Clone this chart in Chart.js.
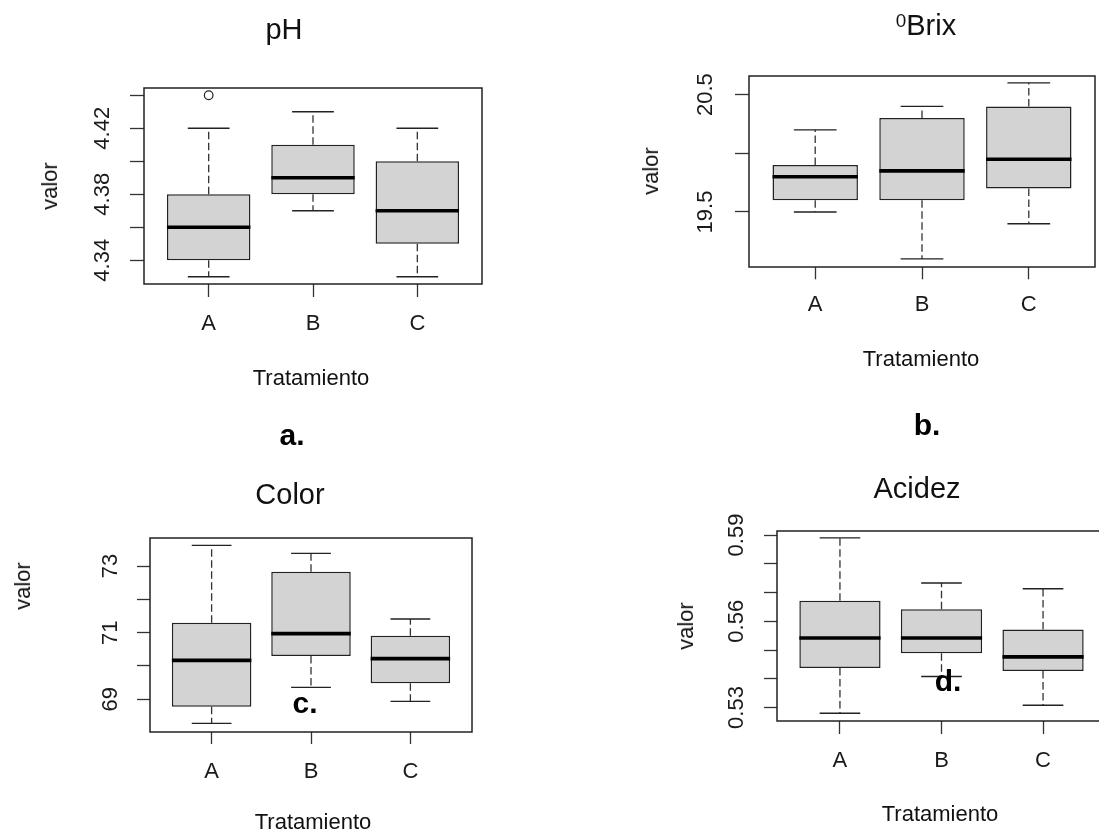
<!DOCTYPE html>
<html><head><meta charset="utf-8">
<script src="https://cdn.jsdelivr.net/npm/chart.js@4.4.1/dist/chart.umd.min.js"></script>
<style>
html,body{margin:0;padding:0;background:#fff;overflow:hidden;width:1099px;height:834px;position:relative;font-family:"Liberation Sans",Arial,sans-serif;}
canvas{position:absolute;}
.t{position:absolute;white-space:nowrap;line-height:1;color:#111;transform:translate(-50%,-50%);}
.ttl{font-size:29px;}
.ax{font-size:22px;}
.yl{transform:translate(-50%,-50%) rotate(-90deg);}
.lt{position:absolute;white-space:nowrap;line-height:1;font-size:30px;font-weight:bold;color:#000;transform:translateX(-50%);}
sup{font-size:0.65em;vertical-align:0.42em;line-height:0;}
</style></head><body>
<canvas id="cA" width="545" height="410" style="left:0;top:0"></canvas>
<canvas id="cB" width="549" height="410" style="left:550px;top:0"></canvas>
<canvas id="cC" width="545" height="414" style="left:0;top:420px"></canvas>
<canvas id="cD" width="556" height="414" style="left:550px;top:420px"></canvas>

<div class="t ttl" style="left:284px;top:29px">pH</div>
<div class="t ttl" style="left:926px;top:25px"><sup>0</sup>Brix</div>
<div class="t ttl" style="left:290px;top:494px">Color</div>
<div class="t ttl" style="left:917px;top:488px">Acidez</div>

<div class="t ax yl" style="left:50px;top:186px">valor</div>
<div class="t ax yl" style="left:651px;top:171px">valor</div>
<div class="t ax yl" style="left:23px;top:586px">valor</div>
<div class="t ax yl" style="left:686px;top:626px">valor</div>

<div class="t ax" style="left:311px;top:378px">Tratamiento</div>
<div class="t ax" style="left:921px;top:359px">Tratamiento</div>
<div class="t ax" style="left:313px;top:822px">Tratamiento</div>
<div class="t ax" style="left:940px;top:814px">Tratamiento</div>

<div class="lt" style="left:292px;top:420px">a.</div>
<div class="lt" style="left:927px;top:410px">b.</div>
<div class="lt" style="left:305px;top:688px">c.</div>
<div class="lt" style="left:948px;top:666px">d.</div>

<script>
// ---------- data ----------
const categories = ['A', 'B', 'C'];

// pH
const phLow  = [4.33, 4.37, 4.33];
const phQ1   = [4.34, 4.38, 4.35];
const phMed  = [4.36, 4.39, 4.37];
const phQ3   = [4.38, 4.41, 4.40];
const phHigh = [4.42, 4.43, 4.42];
const phOutliers = [[4.44], [], []];
const phTicks = [4.34, 4.36, 4.38, 4.40, 4.42, 4.44];
const phTickLabels = ['4.34', '', '4.38', '', '4.42', ''];

// Brix
const brixLow  = [19.5, 19.1, 19.4];
const brixQ1   = [19.6, 19.6, 19.7];
const brixMed  = [19.8, 19.85, 19.95];
const brixQ3   = [19.9, 20.3, 20.4];
const brixHigh = [20.2, 20.4, 20.6];
const brixOutliers = [[], [], []];
const brixTicks = [19.5, 20.0, 20.5];
const brixTickLabels = ['19.5', '', '20.5'];

// Color
const colorLow  = [68.28, 69.36, 68.94];
const colorQ1   = [68.78, 70.30, 69.48];
const colorMed  = [70.17, 70.97, 70.22];
const colorQ3   = [71.30, 72.83, 70.91];
const colorHigh = [73.62, 73.38, 71.41];
const colorOutliers = [[], [], []];
const colorTicks = [69, 70, 71, 72, 73];
const colorTickLabels = ['69', '', '71', '', '73'];

// Acidez
const acLow  = [0.528, 0.5408, 0.5308];
const acQ1   = [0.5437, 0.5489, 0.5427];
const acMed  = [0.5542, 0.5542, 0.5476];
const acQ3   = [0.5671, 0.5642, 0.5571];
const acHigh = [0.589, 0.5733, 0.5713];
const acOutliers = [[], [], []];
const acTicks = [0.53, 0.54, 0.55, 0.56, 0.57, 0.58, 0.59];
const acTickLabels = ['0.53', '', '', '0.56', '', '', '0.59'];

// ---------- drawing ----------
const FONT = '"Liberation Sans", Arial, sans-serif';
const BOX_HALF = 0.4, CAP_HALF = 0.2;
const INK = '#222';

const framePlugin = {
  id: 'frame',
  afterDatasetsDraw(chart) {
    const {ctx, chartArea: a} = chart;
    ctx.save();
    ctx.strokeStyle = INK; ctx.lineWidth = 1.5;
    ctx.strokeRect(a.left, a.top, a.right - a.left, a.bottom - a.top);
    ctx.restore();
  }
};

function makePanel(id, low, q1, med, q3, high, outl, yTicks, yLabels, ymin, ymax, L) {
  const boxes = [], meds = [], whisk = [], caps = [], pts = [];
  categories.forEach((c, i) => {
    const x = i + 1;
    boxes.push({x: x, y: [q1[i], q3[i]]});
    meds.push({x: x - BOX_HALF, y: med[i]}, {x: x + BOX_HALF, y: med[i]}, {x: x, y: null});
    whisk.push({x: x, y: q3[i]}, {x: x, y: high[i]}, {x: x, y: null},
               {x: x, y: q1[i]}, {x: x, y: low[i]}, {x: x, y: null});
    caps.push({x: x - CAP_HALF, y: high[i]}, {x: x + CAP_HALF, y: high[i]}, {x: x, y: null},
              {x: x - CAP_HALF, y: low[i]}, {x: x + CAP_HALF, y: low[i]}, {x: x, y: null});
    outl[i].forEach(v => pts.push({x: x, y: v}));
  });
  const tickFont = {family: FONT, size: 22};
  new Chart(document.getElementById(id), {
    type: 'bar',
    data: {
      datasets: [
        {type: 'bar', label: 'caja', data: boxes, backgroundColor: '#d3d3d3', borderColor: INK,
         borderWidth: 1.5, borderSkipped: false, barPercentage: 0.8, categoryPercentage: 1.0, order: 4},
        {type: 'line', label: 'bigotes', data: whisk, borderColor: '#333', borderWidth: 1.3,
         borderDash: [7.5, 3.5], pointRadius: 0, spanGaps: false, fill: false, order: 3},
        {type: 'line', label: 'topes', data: caps, borderColor: INK, borderWidth: 1.4,
         pointRadius: 0, spanGaps: false, fill: false, order: 2},
        {type: 'line', label: 'mediana', data: meds, borderColor: '#000', borderWidth: 3.6,
         borderCapStyle: 'butt', pointRadius: 0, spanGaps: false, fill: false, order: 1},
        {type: 'line', label: 'atípicos', data: pts, showLine: false, pointRadius: 4.3,
         pointBackgroundColor: 'rgba(0,0,0,0)', pointBorderColor: INK, pointBorderWidth: 1.2, order: 0}
      ]
    },
    options: {
      responsive: false, animation: false, devicePixelRatio: 1, events: [],
      layout: {padding: {left: 0, top: L.top, right: L.right, bottom: 0}},
      plugins: {legend: {display: false}, tooltip: {enabled: false}, title: {display: false}},
      scales: {
        x: {
          type: 'linear', min: 0.38, max: 3.62, offset: false,
          afterBuildTicks: s => { s.ticks = categories.map((c, i) => ({value: i + 1})); },
          afterFit: s => { s.height = L.hx; },
          ticks: {autoSkip: false, callback: (v, i) => categories[i], font: tickFont, color: '#1a1a1a',
                  padding: L.xpad, minRotation: 0, maxRotation: 0},
          grid: {display: true, drawOnChartArea: false, drawTicks: true, tickLength: L.xtl,
                 tickWidth: 1.3, tickColor: '#333', offset: false},
          border: {display: false}
        },
        y: {
          type: 'linear', min: ymin, max: ymax,
          afterBuildTicks: s => { s.ticks = yTicks.map(v => ({value: v})); },
          afterFit: s => { s.width = L.wy; },
          ticks: {autoSkip: false, callback: (v, i) => yLabels[i], font: tickFont, color: '#1a1a1a',
                  padding: L.ypad, minRotation: 90, maxRotation: 90, crossAlign: 'center'},
          grid: {display: true, drawOnChartArea: false, drawTicks: true, tickLength: L.ytl,
                 tickWidth: 1.3, tickColor: '#333'},
          border: {display: false}
        }
      }
    },
    plugins: [framePlugin]
  });
}

makePanel('cA', phLow, phQ1, phMed, phQ3, phHigh, phOutliers, phTicks, phTickLabels, 4.3256, 4.4444,
  {top: 88, right: 63, hx: 126, wy: 144, xpad: 13.8, xtl: 13, ypad: 5.6, ytl: 14});
makePanel('cB', brixLow, brixQ1, brixMed, brixQ3, brixHigh, brixOutliers, brixTicks, brixTickLabels, 19.031, 20.659,
  {top: 76, right: 4, hx: 143, wy: 199, xpad: 12.5, xtl: 12.3, ypad: 7.6, ytl: 14});
makePanel('cC', colorLow, colorQ1, colorMed, colorQ3, colorHigh, colorOutliers, colorTicks, colorTickLabels, 68.02, 73.84,
  {top: 118, right: 73, hx: 102, wy: 150, xpad: 14.8, xtl: 12, ypad: 13.8, ytl: 13});
makePanel('cD', acLow, acQ1, acMed, acQ3, acHigh, acOutliers, acTicks, acTickLabels, 0.5253, 0.5914,
  {top: 111, right: 0, hx: 113, wy: 227, xpad: 13.8, xtl: 13, ypad: 6, ytl: 13});
</script>
</body></html>
